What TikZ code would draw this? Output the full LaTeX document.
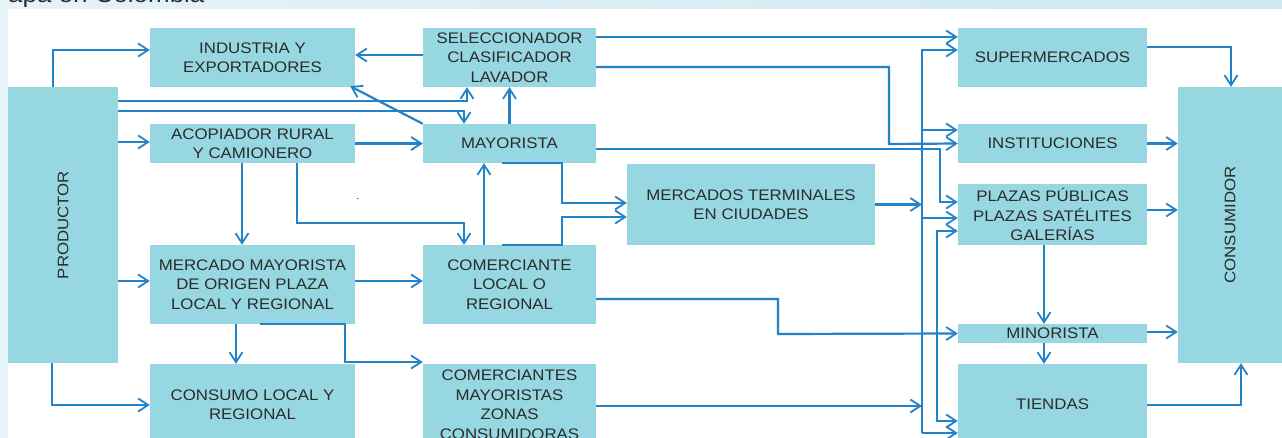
\documentclass[tikz,border=0pt]{standalone}
\usepackage{fontspec}
\setmainfont{Liberation Sans}[FakeStretch=1.1]
\usetikzlibrary{arrows.meta,calc}
\definecolor{cajafill}{HTML}{96D7E1}
\definecolor{azul}{HTML}{2382C8}
\definecolor{texto}{HTML}{2B2B2B}
\definecolor{fondoA}{HTML}{E6F3F8}
\definecolor{fondoB}{HTML}{CFE8F0}
\tikzset{punta/.tip={Straight Barb[length=10pt,width=13pt,line width=1.8pt]}}

\begin{document}
\begin{tikzpicture}[x=1pt,y=-1pt,
	caja/.style={fill=cajafill, text=texto, align=center, inner sep=0pt, font=\fontsize{15.3}{19.5}\selectfont},
	linea/.style={draw=azul, line width=2.2pt},
	flecha/.style={linea, -punta},
	doble/.style={linea, punta-punta}]
	\useasboundingbox (0,0) rectangle (1282,438);
	\clip (0,0) rectangle (1282,438);
	\shade [left color=fondoA, right color=fondoB] (0,0) rectangle (1282,438);
	\fill [white] (8,9) rectangle (1282,438);
	\node [anchor=base west, inner sep=0pt, text=texto, font=\fontsize{23.6}{28}\selectfont] (titulo) at (8,3) {apa en Colombia};
	\node [anchor=base, inner sep=0pt, text=texto, font=\fontsize{10}{12}\selectfont] (punto) at (358,200) {.};

	\node [caja, minimum width=110, minimum height=276] (prod) at (63,225) {\rotatebox{90}{PRODUCTOR}};
	\node [caja, minimum width=205, minimum height=59] (ind) at (252.5,57.5) {INDUSTRIA Y\\EXPORTADORES};
	\node [caja, minimum width=173, minimum height=59] (sel) at (509.5,57.5) {SELECCIONADOR\\CLASIFICADOR\\LAVADOR};
	\node [caja, minimum width=205, minimum height=39] (acop) at (252.5,143.5) {ACOPIADOR RURAL\\Y CAMIONERO};
	\node [caja, minimum width=173, minimum height=39] (may) at (509.5,143.5) {MAYORISTA};
	\node [caja, minimum width=248, minimum height=81] (merc) at (751,204.5) {MERCADOS TERMINALES\\EN CIUDADES};
	\node [caja, minimum width=205, minimum height=79] (mmo) at (252.5,284.5) {MERCADO MAYORISTA\\DE ORIGEN PLAZA\\LOCAL Y REGIONAL};
	\node [caja, minimum width=173, minimum height=79] (com) at (509.5,284.5) {COMERCIANTE\\LOCAL O\\REGIONAL};
	\node [caja, minimum width=205, minimum height=81] (cons) at (252.5,404.5) {CONSUMO LOCAL Y\\REGIONAL};
	\node [caja, minimum width=173, minimum height=81] (cmz) at (509.5,404.5) {COMERCIANTES\\MAYORISTAS\\ZONAS\\CONSUMIDORAS};
	\node [caja, minimum width=189, minimum height=59] (sup) at (1052.5,57.5) {SUPERMERCADOS};
	\node [caja, minimum width=189, minimum height=39] (inst) at (1052.5,143.5) {INSTITUCIONES};
	\node [caja, minimum width=189, minimum height=61] (plaz) at (1052.5,214.5) {PLAZAS PÚBLICAS\\PLAZAS SATÉLITES\\GALERÍAS};
	\node [caja, minimum width=189, minimum height=19] (mino) at (1052.5,333.5) {MINORISTA};
	\node [caja, minimum width=189, minimum height=81] (tien) at (1052.5,404.5) {TIENDAS};
	\node [caja, minimum width=104, minimum height=276] (consu) at (1230,225) {\rotatebox{90}{CONSUMIDOR}};
	\coordinate (busA) at (922,0);
	\coordinate (busB) at (937,0);

	\draw [flecha] (prod.north -| 53,0) |- (ind.west |- 0,50);
	\draw [flecha] (prod.east |- 0,101) -| (sel.south -| 467,0);
	\draw [flecha] (prod.east |- 0,111) -| (may.north -| 464,0);
	\draw [flecha] (prod.east |- 0,142) -- (acop.west |- 0,142);
	\draw [flecha] (prod.east |- 0,281) -- (mmo.west |- 0,281);
	\draw [flecha] (prod.south -| 52,0) |- (cons.west |- 0,405);
	\draw [flecha] (sel.west |- 0,55) -- (ind.east |- 0,55);
	\draw [flecha] (may.north west) -- ($(ind.south east)+(-5,-1)$);
	\draw [flecha] (may.north) -- (sel.south);
	\draw [flecha] (acop.east) -- (may.west);
	\draw [flecha] (acop.south -| 242,0) -- (mmo.north -| 242,0);
	\draw [flecha] (acop.south -| 297,0) |- (464,223) -- (com.north -| 464,0);
	\draw [flecha] (mmo.east |- 0,281) -- (com.west |- 0,281);
	\draw [flecha] (mmo.south -| 236,0) -- (cons.north -| 236,0);
	\draw [flecha] (mmo.south -| 260,0) -| (345,362) -- (cmz.west |- 0,362);
	\draw [flecha] (com.north -| 484,0) -- (may.south -| 484,0);
	\draw [flecha] (may.south -| 502,0) -| (562,203) -- (merc.west |- 0,203);
	\draw [flecha] (com.north -| 502,0) -| (562,217) -- (merc.west |- 0,217);
	\draw [flecha] (sel.east |- 0,37) -- (sup.west |- 0,37);
	\draw [flecha] (sel.east |- 0,67) -| (889,144) -- (inst.west);
	\draw [flecha] (may.east |- 0,149) -| (940,202) -- (plaz.west |- 0,202);
	\draw [flecha] (com.east |- 0,299) -| (778,334) -- (mino.west);

	\draw [flecha] (merc.east) -- (busA |- merc.east);
	\draw [flecha] (cmz.east |- 0,406) -- (busA |- 0,406);
	\draw [flecha] (busA |- 0,433) |- (sup.west |- 0,50);
	\draw [flecha] (busA |- 0,130) -- (inst.west |- 0,130);
	\draw [flecha] (busA |- 0,218) -- (plaz.west |- 0,218);
	\draw [flecha] (busA |- 0,433) -- (tien.west |- 0,433);
	\draw [doble] (plaz.west |- 0,231) -| (busB |- 0,421) -- (tien.west |- 0,421);

	\draw [flecha] (plaz.south -| 1044,0) -- (mino.north -| 1044,0);
	\draw [flecha] (mino.south -| 1044,0) -- (tien.north -| 1044,0);
	\draw [flecha] (sup.east |- 0,47) -| (consu.north -| 1231,0);
	\draw [flecha] (inst.east) -- (consu.west |- inst.east);
	\draw [flecha] (plaz.east |- 0,210) -- (consu.west |- 0,210);
	\draw [flecha] (mino.east |- 0,332) -- (consu.west |- 0,332);
	\draw [flecha] (tien.east |- 0,405) -| (consu.south -| 1241,0);
\end{tikzpicture}
\end{document}
